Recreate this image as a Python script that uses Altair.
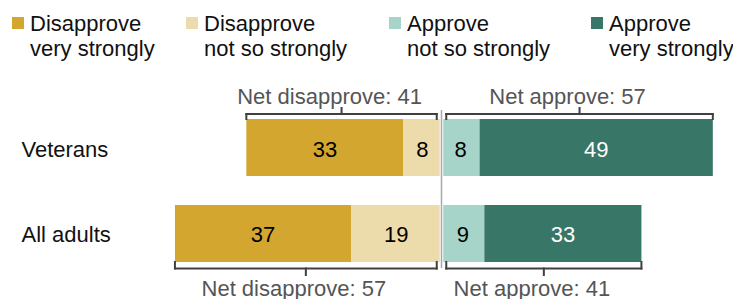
import altair as alt
import pandas as pd

categories = ["Veterans", "All adults"]
responses = ["Disapprove\nvery strongly", "Disapprove\nnot so strongly",
             "Approve\nnot so strongly", "Approve\nvery strongly"]
dis_very = [33, 37]
dis_not = [8, 19]
app_not = [8, 9]
app_very = [49, 33]
net_dis = [41, 57]
net_app = [57, 41]

colors = ["#D3A62F", "#EDDCAB", "#A7D4C8", "#387767"]
FONT = "Liberation Sans"

# ---- bar segments table
rows = []
for i, c in enumerate(categories):
    dv, dn, an, av = dis_very[i], dis_not[i], app_not[i], app_very[i]
    segs = [(responses[0], -(dv + dn), -dn, dv),
            (responses[1], -dn, 0, dn),
            (responses[2], 0, an, an),
            (responses[3], an, an + av, av)]
    for j, (r, a, b, v) in enumerate(segs):
        rows.append(dict(cat=c, resp=r, x=a, x2=b, v=v, mid=(a + b) / 2,
                         tc="white" if j == 3 else "black"))
bars = pd.DataFrame(rows)

# ---- bracket table
brows = []
for i, c in enumerate(categories):
    left = -(dis_very[i] + dis_not[i])
    right = app_not[i] + app_very[i]
    brows.append(dict(cat=c, xa=-1, xb=left, mid=(left - 1) / 2,
                      label=f"Net disapprove: {net_dis[i]}"))
    brows.append(dict(cat=c, xa=1, xb=right, mid=(right + 1) / 2,
                      label=f"Net approve: {net_app[i]}"))
brackets = pd.DataFrame(brows)

W, H = 725, 291
zero_px = 433.5
ppu = 4.76
xscale = alt.Scale(domain=[-zero_px / ppu, (W - zero_px) / ppu], nice=False, zero=False)
yscale = alt.Scale(domain=categories, range=[111, 254], paddingInner=0.337, paddingOuter=0)
cscale = alt.Scale(domain=responses, range=colors)

X = lambda f: alt.X(f, type="quantitative", scale=xscale, axis=None)
Y = alt.Y("cat:N", scale=yscale, axis=None)

bar_layer = alt.Chart(bars).mark_bar().encode(
    x=X("x"), x2="x2", y=Y,
    color=alt.Color("resp:N", scale=cscale, legend=None),
)

zero_df = pd.DataFrame({"z": [0]})
zero_white = alt.Chart(zero_df).mark_rule(color="white", strokeWidth=3.5).encode(
    x=X("z"), y=alt.value(102), y2=alt.value(260))
zero_grey = alt.Chart(zero_df).mark_rule(color="#A8A8A8", strokeWidth=1.5).encode(
    x=X("z"), y=alt.value(102), y2=alt.value(260))

val_labels = alt.Chart(bars).mark_text(font=FONT, fontSize=22, baseline="middle", dy=2).encode(
    x=X("mid"), y=Y, text="v:Q", color=alt.Color("tc:N", scale=None))

cat_labels = alt.Chart(pd.DataFrame({"cat": categories})).mark_text(
    font=FONT, fontSize=22, align="left", baseline="middle", dy=2, color="#111111"
).encode(x=alt.value(13.5), y=Y, text="cat:N")

BR = "#404040"
def bracket_layers(cat, hy, ey, my, ty):
    d = alt.Chart(brackets).transform_filter(alt.datum.cat == cat)
    rule = dict(color=BR, strokeWidth=2, strokeCap="square")
    return [
        d.mark_rule(**rule).encode(x=X("xa"), x2="xb", y=alt.value(hy)),
        d.mark_rule(**rule).encode(x=X("xa"), y=alt.value(hy), y2=alt.value(ey)),
        d.mark_rule(**rule).encode(x=X("xb"), y=alt.value(hy), y2=alt.value(ey)),
        d.mark_rule(**rule).encode(x=X("mid"), y=alt.value(hy), y2=alt.value(my)),
        d.mark_text(font=FONT, fontSize=22, color="#555555", baseline="alphabetic", dx=-12).encode(
            x=X("mid"), y=alt.value(ty), text="label:N"),
    ]

br_layers = bracket_layers(categories[0], 106, 111, 100, 96) + \
            bracket_layers(categories[1], 260.5, 254, 267, 288)

legend_layers = []
item_x = [4, 178, 381, 583]
one = pd.DataFrame({"a": [0]})
for k in range(4):
    legend_layers.append(alt.Chart(one).mark_square(size=144, opacity=1, color=colors[k]).encode(
        x=alt.value(item_x[k] + 6), y=alt.value(15)))
    legend_layers.append(alt.Chart(one).mark_text(
        font=FONT, fontSize=22, align="left", baseline="alphabetic", lineBreak="\n",
        lineHeight=24.5, color="#111111").encode(
        x=alt.value(item_x[k] + 18), y=alt.value(23), text=alt.value(responses[k])))

chart = alt.layer(bar_layer, zero_white, zero_grey, val_labels, cat_labels,
                  *br_layers, *legend_layers).properties(
    width=W, height=H, padding=0, autosize=alt.AutoSizeParams(type="none")
).configure_view(stroke=None)

chart.save("out.html", embed_options={"renderer": "svg", "actions": False})
